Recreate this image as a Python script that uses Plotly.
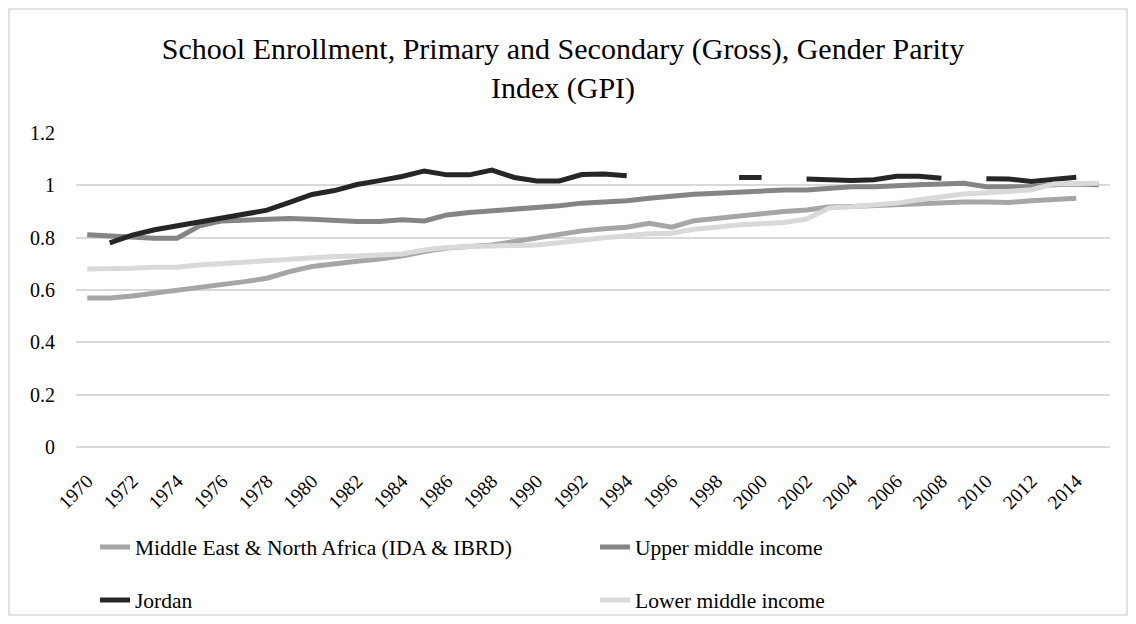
import plotly.graph_objects as go

years = [str(y) for y in range(1970, 2016)]
tick_years = [str(y) for y in range(1970, 2015, 2)]
y_ticks = [0, 0.2, 0.4, 0.6, 0.8, 1.0, 1.2]
y_tick_labels = ["0", "0.2", "0.4", "0.6", "0.8", "1", "1.2"]

mena = [0.569, 0.569, 0.577, 0.588, 0.597, 0.607, 0.620, 0.632, 0.645, 0.670,
        0.690, 0.702, 0.710, 0.718, 0.730, 0.747, 0.760, 0.766, 0.772, 0.785,
        0.798, 0.811, 0.826, 0.834, 0.840, 0.855, 0.840, 0.865, 0.874, 0.885,
        0.893, 0.900, 0.906, 0.917, 0.919, 0.922, 0.928, 0.932, 0.934, 0.936,
        0.936, 0.934, 0.941, 0.945, 0.951, None]

upper_middle = [0.811, 0.807, 0.800, 0.798, 0.798, 0.845, 0.864, 0.868, 0.870, 0.873,
                0.870, 0.864, 0.862, 0.862, 0.868, 0.864, 0.887, 0.896, 0.902, 0.909,
                0.915, 0.922, 0.932, 0.936, 0.941, 0.951, 0.960, 0.966, 0.970, 0.975,
                0.980, 0.982, 0.982, 0.987, 0.995, 0.995, 1.000, 1.002, 1.005, 1.008,
                0.995, 0.993, 0.995, 1.002, 1.005, 1.002]

jordan = [None, 0.780, 0.810, 0.830, 0.845, 0.860, 0.875, 0.890, 0.905, 0.935,
          0.965, 0.980, 1.003, 1.018, 1.034, 1.055, 1.040, 1.040, 1.058, 1.030,
          1.017, 1.017, 1.041, 1.043, 1.037, None, None, None, None, 1.030,
          1.030, None, 1.024, 1.020, 1.018, 1.021, 1.035, 1.035, 1.027, None,
          1.025, 1.024, 1.015, 1.021, 1.031, None]

lower_middle = [0.680, 0.680, 0.683, 0.687, 0.687, 0.696, 0.702, 0.707, 0.711, 0.719,
                0.722, 0.728, 0.730, 0.734, 0.738, 0.753, 0.762, 0.766, 0.769, 0.770,
                0.772, 0.781, 0.792, 0.800, 0.807, 0.815, 0.817, 0.832, 0.840, 0.849,
                0.853, 0.858, 0.871, 0.913, 0.918, 0.925, 0.932, 0.945, 0.957, 0.967,
                0.972, 0.976, 0.983, 1.005, 1.008, 1.008]

series = [
    ("Middle East & North Africa (IDA & IBRD)", mena, "#a6a6a6", "legend"),
    ("Upper middle income", upper_middle, "#858585", "legend"),
    ("Jordan", jordan, "#262626", "legend2"),
    ("Lower middle income", lower_middle, "#d9d9d9", "legend2"),
]

FONT = "Liberation Serif, Times New Roman, serif"

fig = go.Figure()
for name, vals, color, leg in series:
    fig.add_trace(go.Scatter(
        x=years, y=vals, name=name, mode="lines",
        line=dict(color=color, width=5),
        connectgaps=False, legend=leg,
    ))

# page has an 8px body margin; figure sits at (8, 8) on screen
OFF = 8
W, H = 1120, 608
L, T = 76 - OFF, 133 - OFF
R = W - (1110 - OFF)
B = H - (447 - OFF)
pw, ph = W - L - R, H - T - B

def px_x(sx):
    return (sx - OFF - L) / pw

def px_y(sy):
    return (H - B - (sy - OFF)) / ph

fig.update_layout(
    width=W, height=H,
    margin=dict(l=L, r=R, t=T, b=B, autoexpand=False),
    paper_bgcolor="white", plot_bgcolor="white",
    font=dict(family=FONT, color="#000000"),
    title=dict(
        text="School Enrollment, Primary and Secondary (Gross), Gender Parity<br>Index (GPI)",
        x=(563 - OFF) / W, xanchor="center", xref="container",
        y=1 - 51 / H, yanchor="top", yref="container",
        font=dict(family=FONT, size=30, color="#000000"),
    ),
    xaxis=dict(
        type="category", range=[-0.5, len(years) - 0.5],
        tickmode="array", tickvals=tick_years, ticktext=tick_years,
        tickangle=-45, tickfont=dict(family=FONT, size=19.5, color="#000000"),
        showgrid=False, zeroline=False, showline=False, ticks="",
        ticklabelstandoff=18,
    ),
    yaxis=dict(
        range=[0, 1.2], tickmode="array", tickvals=y_ticks, ticktext=y_tick_labels,
        tickfont=dict(family=FONT, size=20, color="#000000"),
        showgrid=True, gridcolor="#d9d9d9", gridwidth=1.5,
        zeroline=True, zerolinecolor="#d9d9d9", zerolinewidth=1.5,
        showline=False, ticks="", ticklabelstandoff=20,
    ),
    legend=dict(
        orientation="h", x=px_x(95), xanchor="left", y=px_y(547), yanchor="middle",
        font=dict(family=FONT, size=21.5, color="#000000"),
        entrywidth=455, entrywidthmode="pixels", bgcolor="rgba(0,0,0,0)",
    ),
    legend2=dict(
        orientation="h", x=px_x(95), xanchor="left", y=px_y(600), yanchor="middle",
        font=dict(family=FONT, size=21.5, color="#000000"),
        entrywidth=455, entrywidthmode="pixels", bgcolor="rgba(0,0,0,0)",
    ),
    shapes=[dict(
        type="rect", xref="paper", yref="paper",
        x0=px_x(OFF + 1), x1=px_x(OFF + W - 1), y0=px_y(OFF + H - 1), y1=px_y(OFF + 1),
        line=dict(color="#d9d9d9", width=1.5), fillcolor="rgba(0,0,0,0)", layer="below",
    )],
    showlegend=True,
)

fig.write_html("out.html")
